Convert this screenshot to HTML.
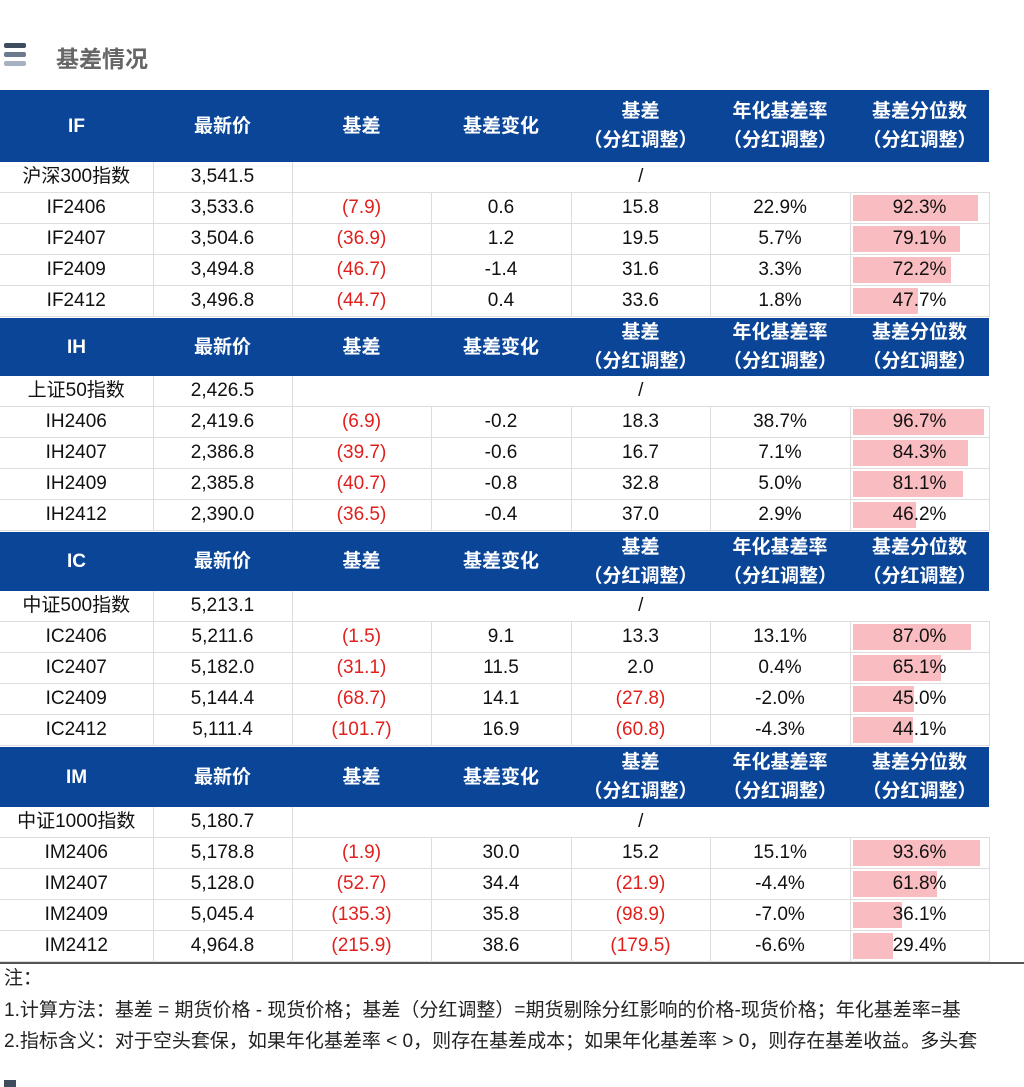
<!DOCTYPE html>
<html><head><meta charset="utf-8"><style>
body{margin:0;width:1024px;height:1087px;background:#fff;position:relative;overflow:hidden;font-family:"Liberation Sans","Noto Sans CJK SC",sans-serif;}
.t{position:absolute;left:0;border-collapse:collapse;table-layout:fixed;width:989px;}
.t td{padding:0;text-align:center;font-size:19px;color:#111;border-right:1px solid #ddd;border-bottom:1px solid #ddd;white-space:nowrap;position:relative;vertical-align:middle}
.t tr.h td{background:#0a4597;color:#fff;font-weight:bold;font-size:19px;line-height:29px;border:none}
.t tr.r td{height:30px;line-height:30px;overflow:hidden}
.red{color:#e0201c!important}
.bar{position:absolute;left:2px;top:2px;bottom:2px;background:#f9bcc0;z-index:0}
.v{position:relative;z-index:1}
.nw{position:absolute;left:0;top:960px;width:1024px;height:127px;overflow:hidden}
.note{position:absolute;left:4px;font-size:19px;color:#222;white-space:nowrap;line-height:24px}
</style></head><body>
<div style="position:absolute;left:4px;top:43px;width:22px;height:5px;background:#3f4c5e;border-radius:2px"></div>
<div style="position:absolute;left:4px;top:52px;width:22px;height:5px;background:#6c7a8e;border-radius:2px"></div>
<div style="position:absolute;left:4px;top:61px;width:22px;height:5px;background:#a6b2c2;border-radius:2px"></div>
<div style="position:absolute;left:56px;top:40px;font-size:23px;font-weight:bold;color:#666">基差情况</div>

<table class="t" style="top:90px">
<colgroup><col style="width:153px"><col style="width:139px"><col style="width:139px"><col style="width:140px"><col style="width:139px"><col style="width:140px"><col style="width:139px"></colgroup>
<tr class="h" style="height:72px"><td>IF</td><td>最新价</td><td>基差</td><td>基差变化</td><td>基差<br>（分红调整）</td><td>年化基差率<br>（分红调整）</td><td>基差分位数<br>（分红调整）</td></tr>
<tr class="r"><td>沪深300指数</td><td>3,541.5</td><td colspan="5" style="border-right:none">/</td></tr>
<tr class="r"><td>IF2406</td><td>3,533.6</td><td class="red">(7.9)</td><td>0.6</td><td>15.8</td><td>22.9%</td><td><div class="bar" style="width:125px"></div><span class="v">92.3%</span></td></tr>
<tr class="r"><td>IF2407</td><td>3,504.6</td><td class="red">(36.9)</td><td>1.2</td><td>19.5</td><td>5.7%</td><td><div class="bar" style="width:107px"></div><span class="v">79.1%</span></td></tr>
<tr class="r"><td>IF2409</td><td>3,494.8</td><td class="red">(46.7)</td><td>-1.4</td><td>31.6</td><td>3.3%</td><td><div class="bar" style="width:98px"></div><span class="v">72.2%</span></td></tr>
<tr class="r"><td>IF2412</td><td>3,496.8</td><td class="red">(44.7)</td><td>0.4</td><td>33.6</td><td>1.8%</td><td><div class="bar" style="width:65px"></div><span class="v">47.7%</span></td></tr>
</table>

<table class="t" style="top:318px">
<colgroup><col style="width:153px"><col style="width:139px"><col style="width:139px"><col style="width:140px"><col style="width:139px"><col style="width:140px"><col style="width:139px"></colgroup>
<tr class="h" style="height:58px"><td>IH</td><td>最新价</td><td>基差</td><td>基差变化</td><td>基差<br>（分红调整）</td><td>年化基差率<br>（分红调整）</td><td>基差分位数<br>（分红调整）</td></tr>
<tr class="r"><td>上证50指数</td><td>2,426.5</td><td colspan="5" style="border-right:none">/</td></tr>
<tr class="r"><td>IH2406</td><td>2,419.6</td><td class="red">(6.9)</td><td>-0.2</td><td>18.3</td><td>38.7%</td><td><div class="bar" style="width:131px"></div><span class="v">96.7%</span></td></tr>
<tr class="r"><td>IH2407</td><td>2,386.8</td><td class="red">(39.7)</td><td>-0.6</td><td>16.7</td><td>7.1%</td><td><div class="bar" style="width:115px"></div><span class="v">84.3%</span></td></tr>
<tr class="r"><td>IH2409</td><td>2,385.8</td><td class="red">(40.7)</td><td>-0.8</td><td>32.8</td><td>5.0%</td><td><div class="bar" style="width:110px"></div><span class="v">81.1%</span></td></tr>
<tr class="r"><td>IH2412</td><td>2,390.0</td><td class="red">(36.5)</td><td>-0.4</td><td>37.0</td><td>2.9%</td><td><div class="bar" style="width:63px"></div><span class="v">46.2%</span></td></tr>
</table>

<table class="t" style="top:532px">
<colgroup><col style="width:153px"><col style="width:139px"><col style="width:139px"><col style="width:140px"><col style="width:139px"><col style="width:140px"><col style="width:139px"></colgroup>
<tr class="h" style="height:59px"><td>IC</td><td>最新价</td><td>基差</td><td>基差变化</td><td>基差<br>（分红调整）</td><td>年化基差率<br>（分红调整）</td><td>基差分位数<br>（分红调整）</td></tr>
<tr class="r"><td>中证500指数</td><td>5,213.1</td><td colspan="5" style="border-right:none">/</td></tr>
<tr class="r"><td>IC2406</td><td>5,211.6</td><td class="red">(1.5)</td><td>9.1</td><td>13.3</td><td>13.1%</td><td><div class="bar" style="width:118px"></div><span class="v">87.0%</span></td></tr>
<tr class="r"><td>IC2407</td><td>5,182.0</td><td class="red">(31.1)</td><td>11.5</td><td>2.0</td><td>0.4%</td><td><div class="bar" style="width:88px"></div><span class="v">65.1%</span></td></tr>
<tr class="r"><td>IC2409</td><td>5,144.4</td><td class="red">(68.7)</td><td>14.1</td><td class="red">(27.8)</td><td>-2.0%</td><td><div class="bar" style="width:61px"></div><span class="v">45.0%</span></td></tr>
<tr class="r"><td>IC2412</td><td>5,111.4</td><td class="red">(101.7)</td><td>16.9</td><td class="red">(60.8)</td><td>-4.3%</td><td><div class="bar" style="width:60px"></div><span class="v">44.1%</span></td></tr>
</table>

<table class="t" style="top:747px">
<colgroup><col style="width:153px"><col style="width:139px"><col style="width:139px"><col style="width:140px"><col style="width:139px"><col style="width:140px"><col style="width:139px"></colgroup>
<tr class="h" style="height:60px"><td>IM</td><td>最新价</td><td>基差</td><td>基差变化</td><td>基差<br>（分红调整）</td><td>年化基差率<br>（分红调整）</td><td>基差分位数<br>（分红调整）</td></tr>
<tr class="r"><td>中证1000指数</td><td>5,180.7</td><td colspan="5" style="border-right:none">/</td></tr>
<tr class="r"><td>IM2406</td><td>5,178.8</td><td class="red">(1.9)</td><td>30.0</td><td>15.2</td><td>15.1%</td><td><div class="bar" style="width:127px"></div><span class="v">93.6%</span></td></tr>
<tr class="r"><td>IM2407</td><td>5,128.0</td><td class="red">(52.7)</td><td>34.4</td><td class="red">(21.9)</td><td>-4.4%</td><td><div class="bar" style="width:84px"></div><span class="v">61.8%</span></td></tr>
<tr class="r"><td>IM2409</td><td>5,045.4</td><td class="red">(135.3)</td><td>35.8</td><td class="red">(98.9)</td><td>-7.0%</td><td><div class="bar" style="width:49px"></div><span class="v">36.1%</span></td></tr>
<tr class="r"><td>IM2412</td><td>4,964.8</td><td class="red">(215.9)</td><td>38.6</td><td class="red">(179.5)</td><td>-6.6%</td><td><div class="bar" style="width:40px"></div><span class="v">29.4%</span></td></tr>
</table>
<div style="position:absolute;left:0;top:962px;width:1024px;height:2px;background:#555"></div>
<div class="nw">
<div class="note" style="top:7px">注：</div>
<div class="note" style="top:39px">1.计算方法：基差 = 期货价格 - 现货价格；基差（分红调整）=期货剔除分红影响的价格-现货价格；年化基差率=基</div>
<div class="note" style="top:70px">2.指标含义：对于空头套保，如果年化基差率 &lt; 0，则存在基差成本；如果年化基差率 &gt; 0，则存在基差收益。多头套</div>
<div style="position:absolute;left:4px;top:120px;width:12px;height:7px;background:#3f4c5e"></div>
</div>
</body></html>
